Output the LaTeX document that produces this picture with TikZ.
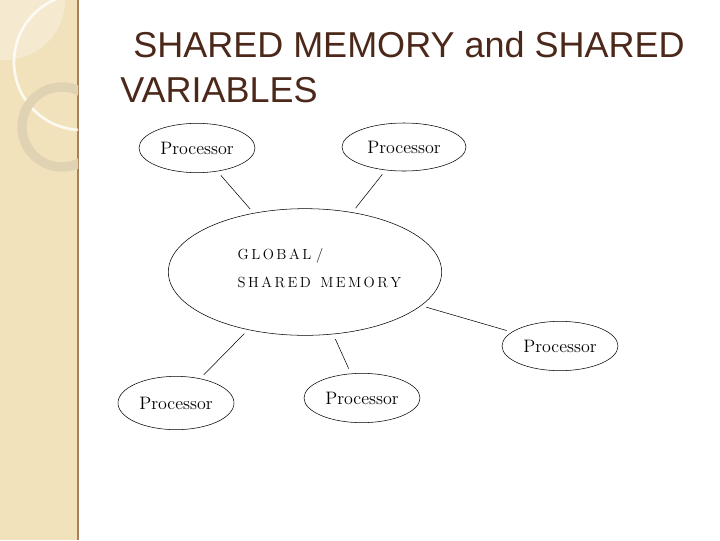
\documentclass[tikz,border=0pt]{standalone}
\usepackage{fontspec}
\usetikzlibrary{shapes.geometric}
\definecolor{strip}{RGB}{241,226,188}
\definecolor{titlebrown}{RGB}{75,40,25}
\tikzset{
    proc/.style={draw, ellipse, thin, minimum width=87pt, minimum height=37pt, inner sep=0pt,
        font=\fontsize{13.5}{15}\selectfont},
    link/.style={thin, shorten >=4pt, shorten <=4pt},
    titletext/.style={anchor=base west, text=titlebrown, inner sep=0pt,
        font=\fontspec{Liberation Sans}\fontsize{27}{30}\selectfont},
}
\begin{document}
\begin{tikzpicture}[x=0.75pt, y=-0.75pt]
\useasboundingbox (0, 0) rectangle (720, 540);

% Draw left strip.
\fill[strip] (0, 0) rectangle (78, 540);
\draw[brown!60!gray, thick] (78, 0) -- (78, 540);
\begin{scope}
    \clip (0, 0) rectangle (78, 540);
    \fill[white, opacity=0.3] (5, 0) circle (60);
    \draw[white, opacity=0.8, line width=2] (82, 62) circle (68);
    \draw[gray!15!strip, line width=7] (62, 127) circle (40);
\end{scope}

% Draw title.
\node[titletext] (title1) at (133, 57) {SHARED MEMORY and SHARED};
\node[titletext] (title2) at (120, 102) {VARIABLES};

% Draw memory and processors.
\node[draw, ellipse, thin, minimum width=205pt, minimum height=95pt] (mem) at (305, 272) {};
\node[anchor=west, align=left, font=\fontsize{11}{21}\selectfont] (memtext) at (233, 268)
    {G\,L\,O\,B\,A\,L /\\S\,H\,A\,R\,E\,D\ \ M\,E\,M\,O\,R\,Y};
\node[proc] (p1) at (197, 148) {Processor};
\node[proc, minimum width=93pt, minimum height=36pt] (p2) at (404, 147) {Processor};
\node[proc] (p3) at (560, 346) {Processor};
\node[proc, minimum height=40pt] (p4) at (176, 403) {Processor};
\node[proc] (p5) at (362, 398) {Processor};

% Draw connections.
\draw[link] (p1) -- (mem);
\draw[link] (p2) -- (mem);
\draw[link] (p3) -- (mem);
\draw[link] (p4) -- (mem);
\draw[link] (p5) -- (mem);

\end{tikzpicture}
\end{document}
